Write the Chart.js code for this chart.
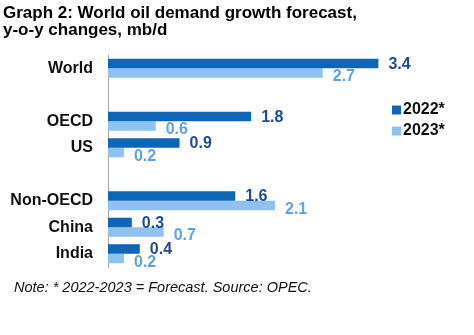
<!DOCTYPE html>
<html>
<head>
<meta charset="utf-8">
<script src="https://cdn.jsdelivr.net/npm/chart.js@4"></script>
<style>
  html, body { margin: 0; padding: 0; background: #fff; }
  #wrap { width: 474px; height: 335px; position: relative; }
</style>
</head>
<body>
<div id="wrap"><canvas id="bar-chart"></canvas></div>
<script>
var regions = ["World", "", "OECD", "US", "", "Non-OECD", "China", "India"];
var demand2022 = [3.4, null, 1.8, 0.9, null, 1.6, 0.3, 0.4];
var demand2023 = [2.7, null, 0.6, 0.2, null, 2.1, 0.7, 0.2];
var seriesNames = ["2022*", "2023*"];
var titleLines = ["Graph 2: World oil demand growth forecast,", "y-o-y changes, mb/d"];
var noteText = "Note: * 2022-2023 = Forecast. Source: OPEC.";

var FONT = "'Liberation Sans', Arial, sans-serif";
var barColors = ["#0E66B9", "#8FC2F1"];
var labelColors = ["#1F4A96", "#5FA1E6"];

// value labels next to the bars, legend on the right and the note underneath
var extras = {
    id: "extras",
    afterDatasetsDraw: function(chart) {
        var ctx = chart.ctx;
        ctx.save();
        ctx.font = "bold 16px " + FONT;
        ctx.textBaseline = "middle";
        ctx.textAlign = "left";
        var shift = [1, 4];
        chart.data.datasets.forEach(function(ds, i) {
            chart.getDatasetMeta(i).data.forEach(function(bar, j) {
                if (ds.data[j] == null) return;
                ctx.fillStyle = labelColors[i];
                ctx.fillText(ds.data[j].toFixed(1), bar.x + 10, bar.y + shift[i]);
            });
        });

        // legend
        var ly = [110, 131];
        seriesNames.forEach(function(name, i) {
            ctx.fillStyle = barColors[i];
            ctx.fillRect(392, ly[i] - 4.5, 9, 9);
            ctx.fillStyle = "#111";
            ctx.fillText(name, 403, ly[i]);
        });

        // note
        ctx.font = "italic 14.5px " + FONT;
        ctx.fillStyle = "#111";
        ctx.fillText(noteText, 14, 288);
        ctx.restore();
    }
};

new Chart(document.getElementById("bar-chart"), {
    type: "bar",
    data: {
        labels: regions,
        datasets: [{
            label: seriesNames[0],
            data: demand2022,
            backgroundColor: barColors[0]
        }, {
            label: seriesNames[1],
            data: demand2023,
            backgroundColor: barColors[1]
        }]
    },
    options: {
        indexAxis: "y",
        responsive: true,
        maintainAspectRatio: false,
        animation: false,
        categoryPercentage: 0.72,
        barPercentage: 1,
        layout: {
            padding: { left: 3, right: 24, top: 0, bottom: 68 }
        },
        scales: {
            x: {
                display: false,
                min: 0,
                max: 4.3
            },
            y: {
                grid: { display: false, drawTicks: false },
                border: { display: true, color: "#A6A6A6", width: 1 },
                ticks: {
                    padding: 15,
                    color: "#111",
                    font: { family: FONT, size: 16, weight: "bold" }
                },
                afterFit: function(scale) {
                    scale.width = 105;
                }
            }
        },
        plugins: {
            legend: { display: false },
            tooltip: { enabled: false },
            title: {
                display: true,
                text: titleLines,
                align: "start",
                color: "#000",
                font: { family: FONT, size: 17, weight: "bold", lineHeight: 1.0 },
                padding: { top: 4.5, bottom: 16.5 }
            }
        }
    },
    plugins: [extras]
});
</script>
</body>
</html>
